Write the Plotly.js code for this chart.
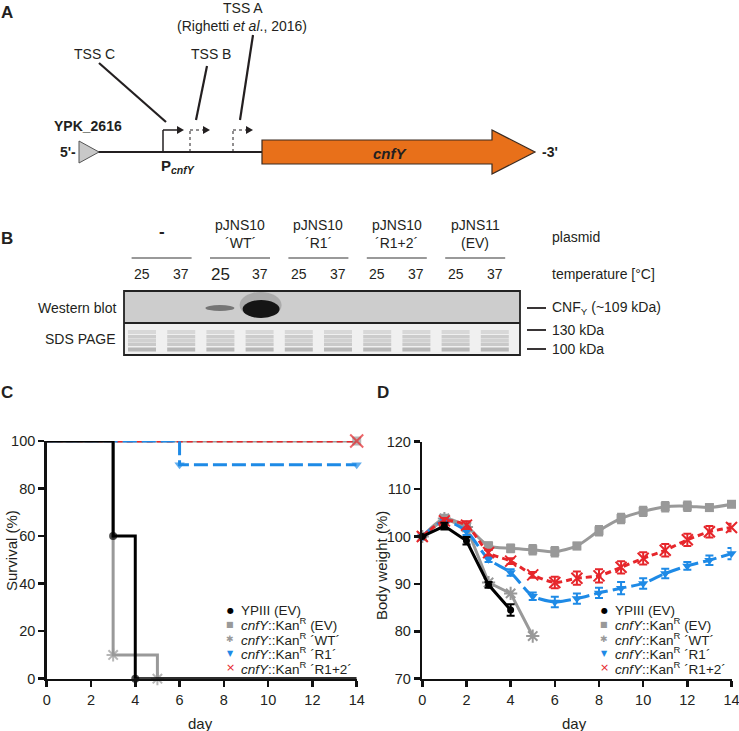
<!DOCTYPE html>
<html>
<head>
<meta charset="utf-8">
<script src="https://cdn.plot.ly/plotly-3.0.1.min.js"></script>
<style>
  body { margin: 0; background: #fff; }
  #fig { width: 739px; height: 731px; }
</style>
</head>
<body>
<div id="fig"></div>
<script>
// ---- data: survival (C) ----
const survYpiiiDays = [0, 3, 4, 14];
const survYpiii = [100, 60, 0, 0];
const survEvDays = [0, 14];
const survEv = [100, 100];
const survWtDays = [0, 3, 5, 14];
const survWt = [100, 10, 0, 0];
const survR1Days = [0, 6, 14];
const survR1 = [100, 90, 90];
const survR12Days = [0, 14];
const survR12 = [100, 100];

// ---- data: body weight (D) ----
const days = [0, 1, 2, 3, 4, 5, 6, 7, 8, 9, 10, 11, 12, 13, 14];
const bwYpiii = [100, 102.2, 99.1, 89.8, 84.5];
const bwYpiiiErr = [0, 0.7, 0.8, 0.6, 1.2];
const bwEv = [100, 103.8, 102.1, 98.0, 97.5, 97.2, 96.8, 98.0, 101.2, 103.8, 105.3, 106.3, 106.4, 106.1, 106.8];
const bwEvErr = [0, 0.8, 1.0, 0.8, 0.8, 1.0, 1.0, 0.7, 1.0, 1.0, 1.0, 1.0, 1.0, 0.7, 0.6];
const bwWt = [100, 103.8, 102.0, 90.3, 88.0, 79.0];
const bwR1 = [100, 103.3, 101.1, 95.2, 92.4, 87.4, 86.2, 86.9, 88.1, 89.1, 90.1, 92.2, 93.8, 95.0, 96.4];
const bwR1Err = [0, 0.6, 0.8, 0.6, 0.7, 0.8, 1.1, 1.1, 1.1, 1.3, 1.1, 1.0, 0.8, 1.0, 1.2];
const bwR12 = [100, 103.3, 102.4, 96.6, 94.8, 91.9, 90.3, 91.2, 91.7, 93.5, 95.4, 97.1, 99.3, 101.0, 101.9];
const bwR12Err = [0, 0.6, 0.8, 0.6, 0.6, 0.6, 1.2, 1.4, 1.4, 1.3, 1.3, 1.3, 1.3, 1.2, 0.8];

const legendNames = [
  'YPIII (EV)',
  '<i>cnfY</i>::Kan<sup>R</sup> (EV)',
  '<i>cnfY</i>::Kan<sup>R</sup> \u00b4WT\u00b4',
  '<i>cnfY</i>::Kan<sup>R</sup> \u00b4R1\u00b4',
  '<i>cnfY</i>::Kan<sup>R</sup> \u00b4R1+2\u00b4'
];

// ---- data: western blot (B) ----
const plasmidTop = ['', 'pJNS10', 'pJNS10', 'pJNS10', 'pJNS11'];
const plasmidBottom = ['', '\u00b4WT\u00b4', '\u00b4R1\u00b4', '\u00b4R1+2\u00b4', '(EV)'];
const temps = ['25', '37', '25', '37', '25', '37', '25', '37', '25', '37'];

// ---- styling ----
const FONT = 'Arial, "Liberation Sans", sans-serif';
const TXT = '#231f20';
const BLACK = '#000000';
const GRAY = '#999999';
const BLUE = '#1e8ae6';
const RED = '#e6262b';
const ORANGE = '#e8701a';
const W = 739, H = 731;

function px(x) { return x / W; }
function py(y) { return 1 - y / H; }

function label(x, y, text, size, extra) {
  return Object.assign({
    xref: 'paper', yref: 'paper', x: px(x), y: py(y), text: text,
    showarrow: false, xanchor: 'center', yanchor: 'middle',
    font: {family: FONT, size: size || 14, color: TXT}
  }, extra || {});
}

function line(x0, y0, x1, y1, color, width, dash) {
  return {type: 'line', xref: 'paper', yref: 'paper',
    x0: px(x0), y0: py(y0), x1: px(x1), y1: py(y1),
    line: {color: color, width: width, dash: dash || 'solid'}};
}

function rect(x0, y0, x1, y1, fill, lc, lw, opacity) {
  return {type: 'rect', xref: 'paper', yref: 'paper',
    x0: px(x0), y0: py(y0), x1: px(x1), y1: py(y1),
    fillcolor: fill, opacity: opacity == null ? 1 : opacity,
    line: {color: lc || fill, width: lw || 0}};
}

function ellipse(x0, y0, x1, y1, fill, opacity) {
  return {type: 'circle', xref: 'paper', yref: 'paper',
    x0: px(x0), y0: py(y0), x1: px(x1), y1: py(y1),
    fillcolor: fill, opacity: opacity, line: {width: 0}};
}

function poly(points, fill, lc, lw) {
  const d = 'M ' + points.map(p => px(p[0]) + ',' + py(p[1])).join(' L ') + ' Z';
  return {type: 'path', xref: 'paper', yref: 'paper', path: d,
    fillcolor: fill, line: {color: lc || fill, width: lw || 0}};
}

const shapes = [];
const annotations = [];

// ---------- panel A ----------
annotations.push(label(7, 12, '<b>A</b>', 17));
annotations.push(label(243, 8, 'TSS A', 14));
annotations.push(label(242, 26, '(Righetti <i>et al</i>., 2016)', 14));
annotations.push(label(95, 54, 'TSS C', 14));
annotations.push(label(211, 54, 'TSS B', 14));
annotations.push(label(88, 126, '<b>YPK_2616</b>', 14));
annotations.push(label(68, 152, '<b>5\'-</b>', 14));
annotations.push(label(550, 152, '<b>-3\'</b>', 14));
annotations.push(label(178, 166, '<b>P</b><sub><b><i>cnfY</i></b></sub>', 15));
annotations.push(label(390, 153, '<b><i>cnfY</i></b>', 15));

shapes.push(line(99, 63, 166, 122, TXT, 2.2));
shapes.push(line(207, 66, 196, 120, TXT, 2.2));
shapes.push(line(253, 35, 240, 120, TXT, 2.2));
shapes.push(line(98, 152, 262, 152, TXT, 2.2));
shapes.push(poly([[79, 141], [99, 152], [79, 163]], '#c8c8c8', '#555', 1));
// promoter arrows
shapes.push(line(163, 152, 163, 130, TXT, 1.5));
shapes.push(line(163, 130, 178, 130, TXT, 1.5));
shapes.push(poly([[177, 126], [184, 130], [177, 134]], TXT));
[[190, 203], [233, 246]].forEach(function (p) {
  shapes.push(line(p[0], 152, p[0], 130, TXT, 1, 'dot'));
  shapes.push(line(p[0], 130, p[1], 130, TXT, 1, 'dot'));
  shapes.push(poly([[p[1], 126], [p[1] + 7, 130], [p[1], 134]], TXT));
});
// cnfY gene arrow
shapes.push(poly([[262, 140], [492, 140], [492, 130], [535, 152], [492, 174], [492, 164], [262, 164]], ORANGE, '#3a2a20', 1.2));

// ---------- panel B ----------
annotations.push(label(7, 238, '<b>B</b>', 17));
const laneX0 = 142, laneStep = 39.2;
const laneX = temps.map((t, i) => laneX0 + i * laneStep);
for (let g = 0; g < 5; g++) {
  const cx = (laneX[2 * g] + laneX[2 * g + 1]) / 2;
  if (g === 0) {
    annotations.push(label(cx, 231, '<b>-</b>', 17));
  } else {
    annotations.push(label(cx, 225, plasmidTop[g], 14));
    annotations.push(label(cx, 243, plasmidBottom[g], 14));
  }
  shapes.push(line(cx - 30, 258, cx + 30, 258, '#777', 1.3));
}
temps.forEach(function (t, i) {
  annotations.push(label(laneX[i], 274, t, i === 2 ? 17 : 14));
});
annotations.push(label(550, 237, 'plasmid', 14, {xanchor: 'left'}));
annotations.push(label(550, 274, 'temperature [\u00b0C]', 14, {xanchor: 'left'}));
annotations.push(label(118, 308, 'Western blot', 14, {xanchor: 'right'}));
annotations.push(label(118, 339, 'SDS PAGE', 14, {xanchor: 'right'}));

// blot panels
shapes.push(rect(124, 291, 520, 323, '#cdcdcd'));
shapes.push(rect(124, 323, 520, 355, '#f0f0f0'));
const bandRows = [[330, 334, 0.18], [335, 338.5, 0.28], [339, 342, 0.24], [342.5, 346, 0.3], [347.5, 351.5, 0.45]];
laneX.forEach(function (cx) {
  bandRows.forEach(function (b) {
    shapes.push(rect(cx - 14, b[0], cx + 14, b[1], '#707070', null, 0, b[2]));
  });
});
// CNFY signal
shapes.push(ellipse(laneX[2] - 15, 305, laneX[2] + 14, 311, '#3a3a3a', 0.6));
shapes.push(ellipse(laneX[3] - 20, 292, laneX[3] + 22, 318, '#777', 0.4));
shapes.push(ellipse(laneX[3] - 17, 300, laneX[3] + 20, 318, '#0d0d0d', 0.95));
shapes.push(rect(124, 291, 520, 355, 'rgba(0,0,0,0)', '#222', 1.8));
shapes.push(line(124, 323, 520, 323, '#222', 1.8));
// size markers
shapes.push(line(527, 308, 546, 308, TXT, 1.8));
shapes.push(line(527, 330, 546, 330, TXT, 1.8));
shapes.push(line(527, 349, 546, 349, TXT, 1.8));
annotations.push(label(550, 308, 'CNF<sub>Y</sub> (~109 kDa)', 14, {xanchor: 'left'}));
annotations.push(label(550, 330, '130 kDa', 14, {xanchor: 'left'}));
annotations.push(label(550, 349, '100 kDa', 14, {xanchor: 'left'}));

// ---------- panels C / D ----------
annotations.push(label(7, 392, '<b>C</b>', 17));
annotations.push(label(383, 392, '<b>D</b>', 17));
annotations.push(label(11, 551, 'Survival (%)', 15, {textangle: -90}));
annotations.push(label(381, 566, 'Body weight (%)', 15, {textangle: -90}));
annotations.push(label(201, 723, 'day', 15));
annotations.push(label(574, 723, 'day', 15));

// legends (drawn as text so the spacing matches the reference)
const legColors = [BLACK, GRAY, GRAY, BLUE, RED];
const legGlyphs = ['\u25cf', '\u25a0', '\u2731', '\u25bc', '\u00d7'];
const legGlyphSize = [8, 8, 9, 8, 11];
[[230, 239], [604, 613]].forEach(function (pos) {
  legendNames.forEach(function (name, i) {
    const yy = 610 + i * 14.4;
    annotations.push(label(pos[0], yy, legGlyphs[i], legGlyphSize[i],
      {font: {family: '"DejaVu Sans", sans-serif', size: legGlyphSize[i], color: legColors[i]}}));
    annotations.push(label(pos[1], yy, name, 13.5, {xanchor: 'left'}));
  });
});

function survTrace(xs, ys, color, dash, symbol, msize, filled) {
  const sizes = ys.map((v, i) =>
    ((i > 0 && v !== ys[i - 1]) || (i === ys.length - 1 && v > 0)) ? msize : 0);
  return {
    x: xs, y: ys, xaxis: 'x', yaxis: 'y', type: 'scatter', mode: 'lines+markers',
    line: {shape: 'hv', color: color, width: 3, dash: dash},
    marker: {symbol: symbol, size: sizes, color: color,
      line: {color: color, width: filled ? 0 : 2}},
    cliponaxis: false, hoverinfo: 'skip'
  };
}

function bwTrace(ys, err, color, dash, symbol, msize, filled, shape) {
  const t = {
    x: days.slice(0, ys.length), y: ys, xaxis: 'x2', yaxis: 'y2',
    type: 'scatter', mode: 'lines+markers',
    line: {color: color, width: 3, dash: dash, shape: shape, smoothing: 0.7},
    marker: {symbol: symbol, size: msize, color: color,
      line: {color: color, width: filled ? 0 : 2}},
    cliponaxis: false, hoverinfo: 'skip'
  };
  if (err) {
    t.error_y = {type: 'data', array: err, visible: true, color: color, thickness: 2, width: 4};
  }
  return t;
}

const traces = [
  survTrace(survEvDays, survEv, GRAY, 'solid', 'square', 9, true),
  survTrace(survR12Days, survR12, RED, '6px,4px', 'x-thin-open', 13, false),
  survTrace(survR1Days, survR1, BLUE, '14px,5px', 'triangle-down', 9, true),
  survTrace(survWtDays, survWt, GRAY, 'solid', 'asterisk-open', 11, false),
  survTrace(survYpiiiDays, survYpiii, BLACK, 'solid', 'circle', 8, true),

  bwTrace(bwEv, bwEvErr, GRAY, 'solid', 'square', 9, true, 'spline'),
  bwTrace(bwWt, null, GRAY, 'solid', 'asterisk-open', 11, false, 'linear'),
  bwTrace(bwR1, bwR1Err, BLUE, '14px,5px', 'triangle-down', 9, true, 'spline'),
  bwTrace(bwR12, bwR12Err, RED, '6px,4px', 'x-thin-open', 11, false, 'spline'),
  bwTrace(bwYpiii, bwYpiiiErr, BLACK, 'solid', 'circle', 7, true, 'linear')
];

const axisBase = {
  showline: true, linecolor: '#111', linewidth: 2.5,
  ticks: 'outside', ticklen: 6, tickwidth: 2.5, tickcolor: '#111',
  showgrid: false, zeroline: false, fixedrange: true,
  ticklabeloverflow: 'allow',
  tickfont: {family: FONT, size: 14.5, color: TXT}
};

const layout = {
  width: W, height: H,
  margin: {l: 0, r: 0, t: 0, b: 0},
  paper_bgcolor: '#ffffff', plot_bgcolor: 'rgba(0,0,0,0)',
  showlegend: false,
  xaxis: Object.assign({}, axisBase, {domain: [px(46.7), px(356.7)], range: [0, 14], dtick: 2, anchor: 'y'}),
  yaxis: Object.assign({}, axisBase, {domain: [py(678.7), py(441)], range: [0, 100], dtick: 20, anchor: 'x'}),
  xaxis2: Object.assign({}, axisBase, {domain: [px(422.3), px(731.5)], range: [0, 14], dtick: 2, anchor: 'y2'}),
  yaxis2: Object.assign({}, axisBase, {domain: [py(678.7), py(441.7)], range: [70, 120], dtick: 10, anchor: 'x2'}),
  shapes: shapes,
  annotations: annotations
};

Plotly.newPlot('fig', traces, layout, {displayModeBar: false, staticPlot: true});
</script>
</body>
</html>
